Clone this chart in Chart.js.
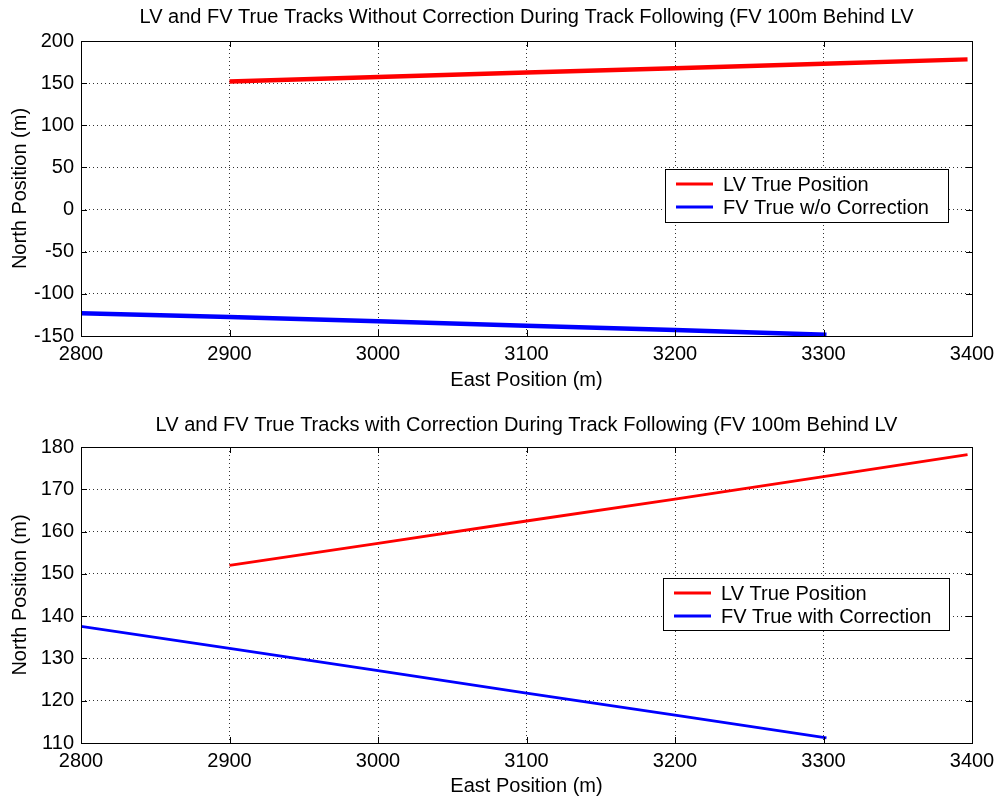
<!DOCTYPE html>
<html>
<head>
<meta charset="utf-8">
<script src="https://cdn.jsdelivr.net/npm/chart.js@4.4.1/dist/chart.umd.min.js"></script>
<style>
  html, body { margin: 0; padding: 0; background: #fff; }
  canvas { display: block; }
</style>
</head>
<body>
<canvas id="semCorrecao" width="997" height="400"></canvas>
<canvas id="comCorrecao" width="997" height="399"></canvas>
<script>
(function() {
/* ---------- Dados ---------- */
const eastLV = [2900, 3000, 3100, 3200, 3300, 3397];
const northLV = [152, 157.2, 162.5, 167.7, 173, 178.2];

const eastFV = [2800, 2900, 3000, 3100, 3200, 3302];
const northFVsem = [-123, -127.5, -132.5, -137.8, -143, -148.5];
const northFVcom = [137.6, 132.4, 127.1, 121.8, 116.6, 111.2];

const xTicks = [2800, 2900, 3000, 3100, 3200, 3300, 3400];
const yTicksTopo = [-150, -100, -50, 0, 50, 100, 150, 200];
const yTicksBaixo = [110, 120, 130, 140, 150, 160, 170, 180];

const FONTE = '"Liberation Sans", Arial, Helvetica, sans-serif';
const TAM = 20;

function pares(xs, ys) {
  return xs.map((x, i) => ({ x: x, y: ys[i] }));
}

/* ---------- Moldura estilo MATLAB ---------- */
const moldura = {
  id: 'moldura',
  afterDraw(chart, args, opts) {
    const ctx = chart.ctx;
    const a = chart.chartArea;
    const sx = chart.scales.x, sy = chart.scales.y;
    ctx.save();

    // caixa
    ctx.strokeStyle = '#000';
    ctx.lineWidth = 1;
    ctx.strokeRect(a.left + 0.5, a.top + 0.5, a.right - a.left, a.bottom - a.top);

    // marcas para dentro
    ctx.beginPath();
    sx.ticks.forEach(t => {
      const px = Math.round(sx.getPixelForValue(t.value)) + 0.5;
      ctx.moveTo(px, a.bottom); ctx.lineTo(px, a.bottom - 6);
      ctx.moveTo(px, a.top); ctx.lineTo(px, a.top + 6);
    });
    sy.ticks.forEach(t => {
      const py = Math.round(sy.getPixelForValue(t.value)) + 0.5;
      ctx.moveTo(a.left, py); ctx.lineTo(a.left + 6, py);
      ctx.moveTo(a.right, py); ctx.lineTo(a.right - 6, py);
    });
    ctx.stroke();

    // títulos
    ctx.fillStyle = '#000';
    ctx.textAlign = 'center';
    ctx.textBaseline = 'middle';
    ctx.font = TAM + 'px ' + FONTE;
    ctx.fillText(opts.titulo, (a.left + a.right) / 2, opts.tituloY);
    ctx.fillText('East Position (m)', (a.left + a.right) / 2, opts.xTituloY);
    ctx.save();
    ctx.translate(20, (a.top + a.bottom) / 2);
    ctx.rotate(-Math.PI / 2);
    ctx.fillText('North Position (m)', 0, 0);
    ctx.restore();

    // legenda
    const L = opts.legenda;
    ctx.fillStyle = '#fff';
    ctx.fillRect(L.x, L.y, L.w, L.h);
    ctx.strokeStyle = '#000';
    ctx.strokeRect(L.x + 0.5, L.y + 0.5, L.w, L.h);
    ctx.textAlign = 'left';
    chart.data.datasets.forEach((ds, i) => {
      const ly = L.y + 15 + i * 23;
      ctx.strokeStyle = ds.borderColor;
      ctx.lineWidth = 3;
      ctx.beginPath();
      ctx.moveTo(L.x + 11, ly); ctx.lineTo(L.x + 48, ly);
      ctx.stroke();
      ctx.fillStyle = '#000';
      ctx.fillText(ds.label, L.x + 58, ly + 1);
    });
    ctx.restore();
  }
};

/* ---------- Gráfico ---------- */
function criarGrafico(id, cfg) {
  return new Chart(document.getElementById(id), {
    type: 'line',
    data: {
      datasets: [
        { label: 'LV True Position', data: pares(eastLV, northLV),
          borderColor: '#ff0000', borderWidth: cfg.espessura },
        { label: cfg.rotuloFV, data: pares(eastFV, cfg.northFV),
          borderColor: '#0000ff', borderWidth: cfg.espessura }
      ]
    },
    options: {
      responsive: false,
      animation: false,
      elements: { point: { radius: 0 }, line: { tension: 0 } },
      layout: { padding: { left: 0, right: 25, top: cfg.topo, bottom: 0 } },
      plugins: {
        legend: { display: false },
        tooltip: { enabled: false },
        moldura: { titulo: cfg.titulo, tituloY: cfg.tituloY, xTituloY: cfg.xTituloY, legenda: cfg.legenda }
      },
      scales: {
        x: {
          type: 'linear', min: 2800, max: 3400,
          afterBuildTicks: s => { s.ticks = xTicks.map(v => ({ value: v })); },
          afterFit: s => { s.height = cfg.alturaX; s.paddingLeft = 0; s.paddingRight = 0; },
          grid: { color: '#333', lineWidth: 1, drawTicks: false },
          border: { display: false, dash: [1, 3] },
          ticks: { color: '#000', padding: 6, maxRotation: 0,
                   font: { family: FONTE, size: TAM }, callback: v => String(v) }
        },
        y: {
          type: 'linear', min: cfg.yTicks[0], max: cfg.yTicks[cfg.yTicks.length - 1],
          afterBuildTicks: s => { s.ticks = cfg.yTicks.map(v => ({ value: v })); },
          afterFit: s => { s.width = 81; s.paddingTop = 0; s.paddingBottom = 0; },
          grid: { color: '#333', lineWidth: 1, drawTicks: false },
          border: { display: false, dash: [1, 3] },
          ticks: { color: '#000', padding: 7,
                   font: { family: FONTE, size: TAM }, callback: v => String(v) }
        }
      }
    },
    plugins: [moldura]
  });
}

criarGrafico('semCorrecao', {
  titulo: 'LV and FV True Tracks Without Correction During Track Following (FV 100m Behind LV',
  rotuloFV: 'FV True w/o Correction',
  northFV: northFVsem,
  yTicks: yTicksTopo,
  espessura: 4.5,
  topo: 41, alturaX: 64,
  tituloY: 17, xTituloY: 380,
  legenda: { x: 665, y: 169, w: 283, h: 53 }
});

criarGrafico('comCorrecao', {
  titulo: 'LV and FV True Tracks with Correction During Track Following (FV 100m Behind LV',
  rotuloFV: 'FV True with Correction',
  northFV: northFVcom,
  yTicks: yTicksBaixo,
  espessura: 2.8,
  topo: 47, alturaX: 56,
  tituloY: 25, xTituloY: 386,
  legenda: { x: 663, y: 178, w: 286, h: 52 }
});
})();
</script>
</body>
</html>
